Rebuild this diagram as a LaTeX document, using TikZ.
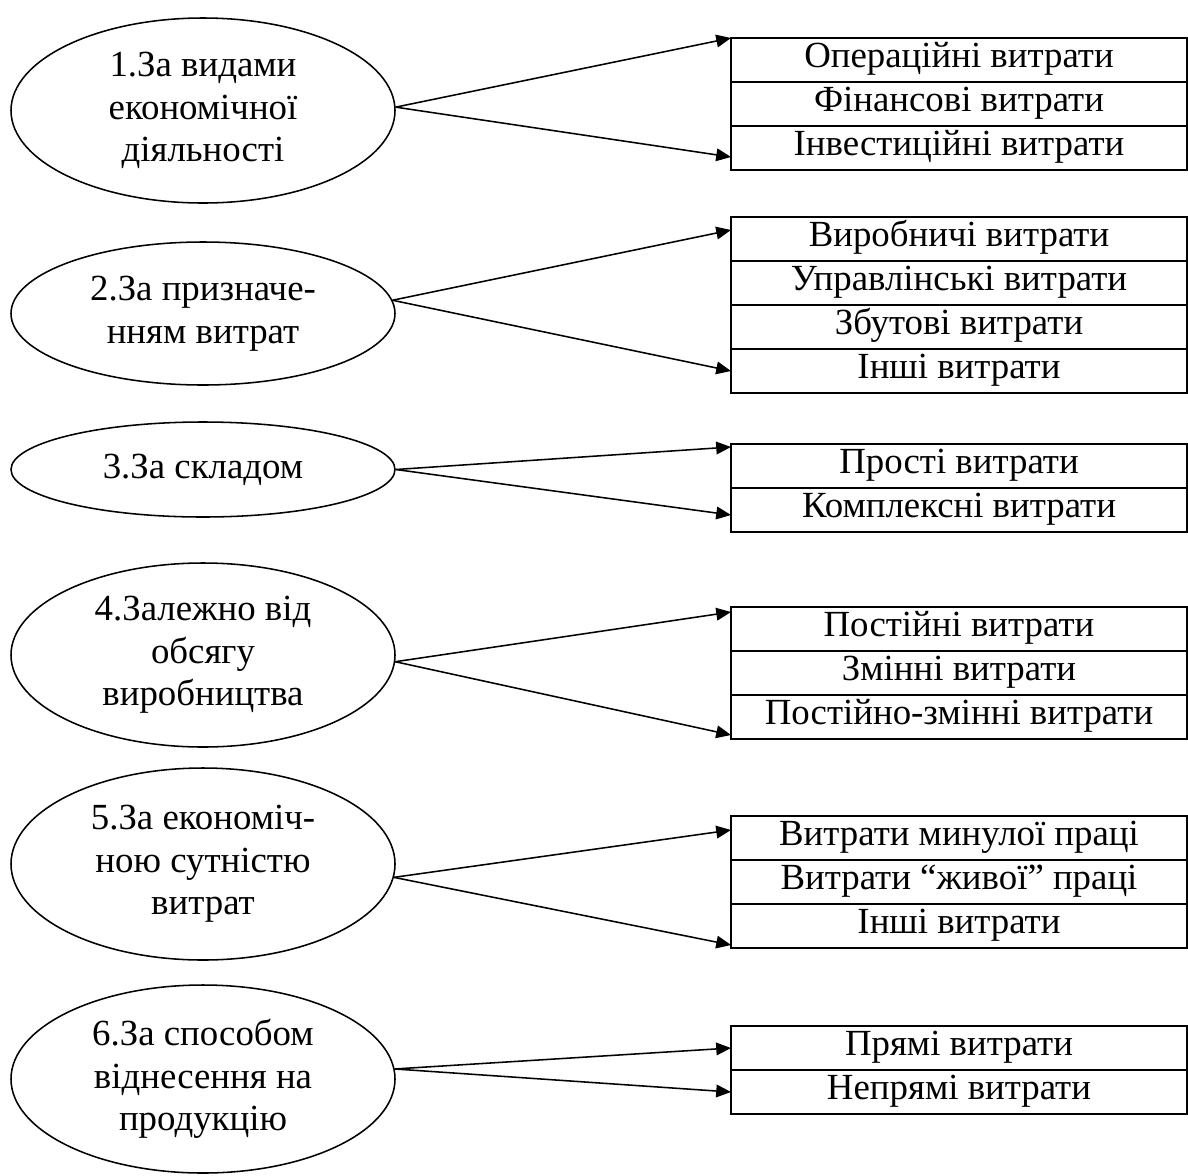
\documentclass[tikz,border=0pt]{standalone}
\usepackage{fontspec}
\setmainfont{Liberation Serif}
\usetikzlibrary{arrows.meta,positioning,shapes.geometric}
\tikzset{
  kind/.style={draw,ellipse,line width=1.1pt,inner sep=0pt,minimum width=9.6cm,align=center,font=\fontsize{26.2}{30.3}\selectfont},
  row/.style={draw,rectangle,line width=1.4pt,inner sep=0pt,outer sep=0pt,minimum width=11.4cm,minimum height=1.1cm,text height=14pt,text depth=4pt,font=\fontsize{26.2}{30.3}\selectfont},
  arr/.style={-{Triangle[length=10.5pt,width=9pt]},line width=1.1pt},
}

\begin{document}
\begin{tikzpicture}
    \useasboundingbox (0,0) rectangle (29.7,-29.375);

    \node[kind,minimum height=4.625cm] (k1) at (5.075,-2.7625) {1.За видами\\економічної\\діяльності};
    \node[kind,minimum height=3.575cm] (k2) at (5.075,-7.8375) {2.За призначе-\\нням витрат};
    \node[kind,minimum height=2.375cm] (k3) at (5.075,-11.7375) {3.За складом};
    \node[kind,minimum height=4.6cm] (k4) at (5.075,-16.375) {4.Залежно від\\обсягу\\виробництва};
    \node[kind,minimum height=4.8cm] (k5) at (5.075,-21.6) {5.За економіч-\\ною сутністю\\витрат};
    \node[kind,minimum height=4.7cm] (k6) at (5.075,-26.975) {6.За способом\\віднесення на\\продукцію};

    \node[row] (v11) at (23.975,-1.5) {Операційні витрати};
    \node[row,below=0pt of v11] (v12) {Фінансові витрати};
    \node[row,below=0pt of v12] (v13) {Інвестиційні витрати};

    \node[row] (v21) at (23.975,-5.975) {Виробничі витрати};
    \node[row,below=0pt of v21] (v22) {Управлінські витрати};
    \node[row,below=0pt of v22] (v23) {Збутові витрати};
    \node[row,below=0pt of v23] (v24) {Інші витрати};

    \node[row] (v31) at (23.975,-11.65) {Прості витрати};
    \node[row,below=0pt of v31] (v32) {Комплексні витрати};

    \node[row] (v41) at (23.975,-15.725) {Постійні витрати};
    \node[row,below=0pt of v41] (v42) {Змінні витрати};
    \node[row,below=0pt of v42] (v43) {Постійно-змінні витрати};

    \node[row] (v51) at (23.975,-20.95) {Витрати минулої праці};
    \node[row,below=0pt of v51] (v52) {Витрати “живої” праці};
    \node[row,below=0pt of v52] (v53) {Інші витрати};

    \node[row] (v61) at (23.975,-26.2) {Прямі витрати};
    \node[row,below=0pt of v61] (v62) {Непрямі витрати};

    \path[arr]
    (k1.1) edge (v11.north west)
    (k1.1) edge ([yshift=-0.225cm]v13.west)
    (k2.4) edge ([yshift=0.225cm]v21.west)
    (k2.4) edge (v24.west)
    (k3.east) edge ([yshift=-0.075cm]v31.north west)
    (k3.east) edge ([yshift=-0.125cm]v32.west)
    (k4.-2) edge ([yshift=-0.125cm]v41.north west)
    (k4.-2) edge ([yshift=0.1cm]v43.south west)
    (k5.-4) edge ([yshift=0.2cm]v51.west)
    (k5.-4) edge ([yshift=0.075cm]v53.south west)
    (k6.3) edge (v61.west)
    (k6.3) edge (v62.west);
\end{tikzpicture}
\end{document}
